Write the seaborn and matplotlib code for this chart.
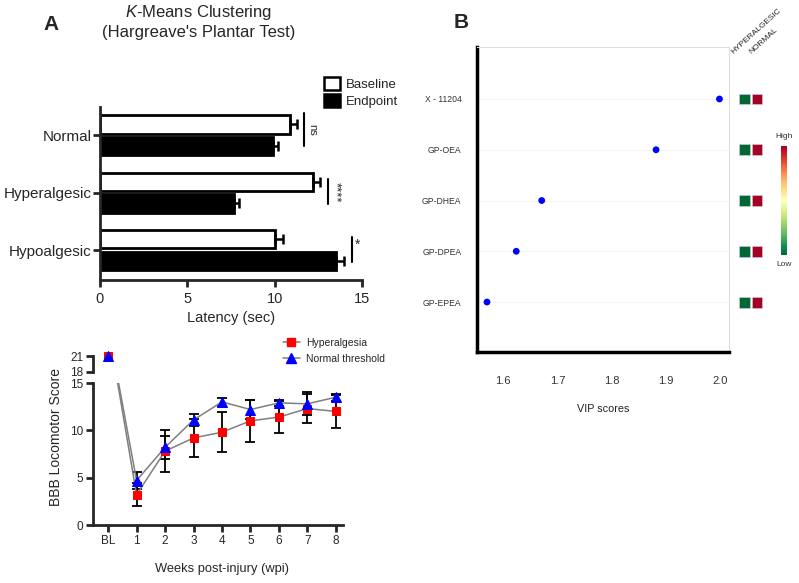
import matplotlib
matplotlib.use("Agg")
import matplotlib.pyplot as plt
import seaborn as sns
import pandas as pd
import numpy as np
from matplotlib.lines import Line2D
from matplotlib.patches import Patch
from matplotlib.cm import ScalarMappable
from matplotlib.colors import Normalize

# ---- panel A (top): Hargreave's plantar test latency
GROUPS = ["Normal", "Hyperalgesic", "Hypoalgesic"]
CONDITIONS = ["Baseline", "Endpoint"]
BASELINE = [10.9, 12.2, 10.0]
BASELINE_ERR = [0.35, 0.4, 0.5]
ENDPOINT = [9.9, 7.7, 13.5]
ENDPOINT_ERR = [0.3, 0.25, 0.45]
SIG_LABELS = ["ns", "****", "*"]

# ---- panel A (bottom): BBB locomotor score
WEEKS = ["BL", "1", "2", "3", "4", "5", "6", "7", "8"]
HYPER = [21, 3.2, 7.8, 9.2, 9.8, 11.0, 11.4, 12.3, 12.0]
HYPER_ERR = [0, 1.2, 2.2, 2.0, 2.1, 2.2, 1.7, 1.5, 1.75]
NORMAL = [21, 4.7, 8.2, 11.1, 13.0, 12.2, 12.9, 12.8, 13.5]
NORMAL_ERR = [0, 0.9, 1.2, 0.6, 0.45, 1.0, 0.35, 1.2, 0.35]

# ---- panel B: VIP scores + group levels
METABOLITES = ["X - 11204", "GP-OEA", "GP-DHEA", "GP-DPEA", "GP-EPEA"]
VIP = [1.999, 1.882, 1.671, 1.624, 1.570]
HEAT_GROUPS = ["HYPERALGESIC", "NORMAL"]
LEVEL_HYPER = [0.0, 0.0, 0.0, 0.0, 0.0]
LEVEL_NORMAL = [1.0, 1.0, 1.0, 1.0, 1.0]

sns.set_style("ticks")
plt.rcParams["font.family"] = ["Liberation Sans", "DejaVu Sans"]
plt.rcParams["mathtext.fontset"] = "custom"
plt.rcParams["mathtext.it"] = "Liberation Sans:italic"
plt.rcParams["mathtext.rm"] = "Liberation Sans"

W, H = 799, 583
fig = plt.figure(figsize=(W / 100, H / 100), dpi=100)


def box(x0, y0, x1, y1):
    # pixel box (top-left origin) -> figure fraction rect
    return [x0 / W, 1 - y1 / H, (x1 - x0) / W, (y1 - y0) / H]


# ================= panel A, bar chart =================
ax_bar = fig.add_axes(box(100, 107, 362, 280))
bar_df = pd.DataFrame({
    "group": GROUPS * 2,
    "condition": ["Baseline"] * 3 + ["Endpoint"] * 3,
    "latency": BASELINE + ENDPOINT,
})
sns.barplot(data=bar_df, x="latency", y="group", hue="condition", order=GROUPS,
            hue_order=CONDITIONS, palette={"Baseline": "white", "Endpoint": "black"},
            edgecolor="black", linewidth=2, width=0.75, gap=0.15, errorbar=None,
            legend=False, orient="h", ax=ax_bar)
for cont, errs in zip(ax_bar.containers, [BASELINE_ERR, ENDPOINT_ERR]):
    for patch, e in zip(cont, errs):
        yc = patch.get_y() + patch.get_height() / 2
        ax_bar.errorbar(patch.get_width(), yc, xerr=[[0], [e]], fmt="none", ecolor="black",
                        elinewidth=1.8, capsize=3.5, capthick=1.8)

for i, lab in enumerate(SIG_LABELS):
    xs = max(BASELINE[i] + BASELINE_ERR[i], ENDPOINT[i] + ENDPOINT_ERR[i]) + 0.45
    y0, y1 = (i - 0.38, i + 0.19) if i == 0 else (i - 0.23, i + 0.2)
    ax_bar.plot([xs, xs], [y0, y1], color="black", lw=1.5)
    if lab == "*":
        ax_bar.text(xs + 0.2, y0 + 0.02, lab, ha="left", va="top", fontsize=10)
    elif lab == "ns":
        ax_bar.text(xs + 0.15, (y0 + y1) / 2, lab, rotation=-90, ha="left", va="center",
                    fontsize=8)
    else:
        ax_bar.text(xs + 0.1, (y0 + y1) / 2, lab, rotation=-90, ha="left", va="center",
                    fontsize=9.5)

ax_bar.set_xlim(0, 15)
ax_bar.set_xticks([0, 5, 10, 15])
ax_bar.set_ylim(2.52, -0.49)
ax_bar.set_xlabel("Latency (sec)", fontsize=10.5, labelpad=4)
ax_bar.set_ylabel("")
sns.despine(ax=ax_bar)
for s in ["left", "bottom"]:
    ax_bar.spines[s].set_linewidth(2)
ax_bar.tick_params(axis="both", width=2, length=5, labelsize=10.5)
ax_bar.tick_params(axis="y", labelsize=11, pad=1)

fig.legend(handles=[Patch(facecolor="white", edgecolor="black", linewidth=1.8),
                    Patch(facecolor="black", edgecolor="black", linewidth=1.8)],
           labels=CONDITIONS, loc="upper left", bbox_to_anchor=(324 / W, 1 - 77 / H),
           frameon=False, fontsize=9.5, handlelength=1.2, handleheight=1.1,
           handletextpad=0.45, labelspacing=0.25, borderpad=0, borderaxespad=0)

fig.text(199 / W, 1 - 13 / H, r"$\it{K}$-Means Clustering", ha="center", va="center",
         fontsize=12)
fig.text(199 / W, 1 - 33 / H, "(Hargreave's Plantar Test)", ha="center", va="center",
         fontsize=12)
fig.text(51 / W, 1 - 25 / H, "A", ha="center", va="center", fontsize=15, fontweight="bold")

# ================= panel A, BBB line chart =================
ax_line = fig.add_axes(box(93, 383, 343, 525))
ax_top = fig.add_axes(box(93, 356, 343, 372))
x_pos = np.arange(len(WEEKS))
series = [
    ("Hyperalgesia", HYPER, HYPER_ERR, "s", "#ff0000", 6),
    ("Normal threshold", NORMAL, NORMAL_ERR, "^", "#0000ff", 6.5),
]
handles = []
for name, vals, errs, mk, col, ms in series:
    ax_line.errorbar(x_pos[1:], vals[1:], yerr=errs[1:], fmt="none", ecolor="black",
                     elinewidth=1.3, capsize=3.5, capthick=1.3, zorder=2)
    sns.lineplot(x=x_pos, y=vals, ax=ax_line, color="#7f7f7f", lw=1.1, marker=mk,
                 markersize=ms, markerfacecolor=col, markeredgecolor=col, zorder=3)
    sns.lineplot(x=x_pos[:1], y=vals[:1], ax=ax_top, color="#7f7f7f", marker=mk,
                 markersize=ms, markerfacecolor=col, markeredgecolor=col, zorder=3)
    handles.append(Line2D([], [], color="#7f7f7f", lw=1.1, marker=mk, markersize=ms,
                          markerfacecolor=col, markeredgecolor=col))
for ln in ax_top.lines:
    ln.set_clip_on(False)

ax_line.set_xlim(-0.53, 8.25)
ax_line.set_ylim(0, 15)
ax_line.set_xticks(x_pos)
ax_line.set_xticklabels(WEEKS)
ax_line.set_yticks([0, 5, 10, 15])
ax_line.set_xlabel("")
ax_line.set_ylabel("")
sns.despine(ax=ax_line)
for s in ["left", "bottom"]:
    ax_line.spines[s].set_linewidth(2)
ax_line.tick_params(axis="both", width=2, length=5, labelsize=8.5, pad=2)

ax_top.set_xlim(-0.53, 8.25)
ax_top.set_ylim(18, 21)
ax_top.set_yticks([18, 21])
ax_top.set_xticks([])
sns.despine(ax=ax_top, bottom=True)
ax_top.spines["left"].set_linewidth(2)
ax_top.tick_params(axis="y", width=2, length=5, labelsize=8.5, pad=2)
ax_top.patch.set_alpha(0)

fig.legend(handles=handles, labels=[s[0] for s in series], loc="upper left",
           bbox_to_anchor=(283 / W, 1 - 338 / H), frameon=False, fontsize=7.5,
           handlelength=1.6, handletextpad=0.6, labelspacing=0.55, borderpad=0,
           borderaxespad=0)
fig.text(56 / W, 1 - 437 / H, "BBB Locomotor Score", rotation=90, ha="center",
         va="center", fontsize=10)
fig.text(222 / W, 1 - 569 / H, "Weeks post-injury (wpi)", ha="center", va="center",
         fontsize=9.3)

# ================= panel B, VIP scores =================
ax_b = fig.add_axes(box(476.7, 46.7, 729, 352.3))
sns.scatterplot(x=VIP, y=METABOLITES, ax=ax_b, color="#0000ff", s=24, edgecolor="none",
                zorder=3)
ax_b.set_xlim(1.551, 2.0166)
ax_b.set_ylim(4.99, -1.03)
ax_b.set_xticks([1.6, 1.7, 1.8, 1.9, 2.0])
ax_b.set_xticklabels(["1.6", "1.7", "1.8", "1.9", "2.0"])
ax_b.yaxis.grid(True, color="#f5f5f5", lw=0.8)
ax_b.xaxis.grid(False)
ax_b.set_axisbelow(True)
for s in ["left", "bottom"]:
    ax_b.spines[s].set_linewidth(2.5)
    ax_b.spines[s].set_color("black")
for s in ["top", "right"]:
    ax_b.spines[s].set_linewidth(0.8)
    ax_b.spines[s].set_color("#dedede")
ax_b.tick_params(axis="y", length=0, labelsize=6.2, pad=11, labelcolor="#333333")
ax_b.tick_params(axis="x", length=0, labelsize=8, pad=17, labelcolor="#333333")
ax_b.set_xlabel("VIP scores", fontsize=7.8, labelpad=13, color="#222222")
fig.text(461 / W, 1 - 23 / H, "B", ha="center", va="center", fontsize=15,
         fontweight="bold")

# group-level squares
ax_h = fig.add_axes(box(735, 46.7, 765, 352.3))
heat_df = pd.DataFrame({
    "group": [HEAT_GROUPS[0]] * len(METABOLITES) + [HEAT_GROUPS[1]] * len(METABOLITES),
    "metabolite": METABOLITES * 2,
    "level": LEVEL_HYPER + LEVEL_NORMAL,
})
sns.scatterplot(data=heat_df, x="group", y="metabolite", hue="level", palette="RdYlGn_r",
                hue_norm=(0, 1), marker="s", s=62, edgecolor="#d0d0d0", linewidth=0.4,
                legend=False, ax=ax_h)
ax_h.set_xlim(-0.76, 1.64)
ax_h.set_ylim(4.99, -1.03)
ax_h.axis("off")
for i, lab in enumerate(HEAT_GROUPS):
    ax_h.text(i * 1.44 - 0.76, -0.86, lab, rotation=42, rotation_mode="anchor",
              ha="left", va="bottom", fontsize=6, color="#222222")

# colour bar
ax_cb = fig.add_axes(box(781, 146, 787, 255))
cb = fig.colorbar(ScalarMappable(norm=Normalize(0, 1), cmap="RdYlGn_r"), cax=ax_cb)
cb.outline.set_visible(False)
cb.set_ticks([])
fig.text(784 / W, 1 - 137 / H, "High", ha="center", va="center", fontsize=6,
         color="#333333")
fig.text(784 / W, 1 - 264 / H, "Low", ha="center", va="center", fontsize=6,
         color="#333333")

fig.savefig("out.png", dpi=100)
